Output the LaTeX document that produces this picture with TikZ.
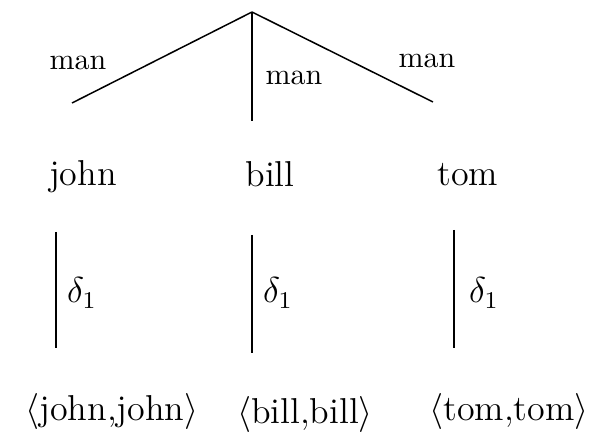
\documentclass[tikz,border=0pt]{standalone}
\begin{document}
\begin{tikzpicture}[x=0.3333pt,y=-0.3333pt,
  edge/.style={line width=0.5pt},
  lab/.style={font=\fontsize{10}{12}\selectfont, anchor=base, inner sep=0pt},
  word/.style={font=\fontsize{12}{14}\selectfont, anchor=base, inner sep=0pt},
  dlab/.style={font=\fontsize{12}{14}\selectfont, anchor=center, inner sep=0pt}]
\useasboundingbox (0,0) rectangle (598,439);
% tree
\coordinate (top) at (252,12);
\coordinate (eL) at (72,103);
\coordinate (eM) at (252,121);
\coordinate (eR) at (433,102);
\draw[edge] (top) -- (eL);
\draw[edge] (top) -- (eM);
\draw[edge] (top) -- (eR);
\node[lab] (mL) at (78,70) {man};
\node[lab] (mM) at (294,85) {man};
\node[lab] (mR) at (427,68) {man};
% words
\node[word] (john) at (83,186) {john};
\node[word] (bill) at (270,187) {bill};
\node[word] (tom) at (468,186) {tom};
% delta lines
\coordinate (j1) at (56,232); \coordinate (j2) at (56,348);
\coordinate (b1) at (252,235); \coordinate (b2) at (252,353);
\coordinate (t1) at (454,230); \coordinate (t2) at (454,348);
\draw[edge] (j1) -- (j2);
\draw[edge] (b1) -- (b2);
\draw[edge] (t1) -- (t2);
\node[dlab] (dj) at (82,293) {$\delta_1$};
\node[dlab] (db) at (278,293) {$\delta_1$};
\node[dlab] (dt) at (484,293) {$\delta_1$};
% pairs
\node[word] (jj) at (112,421) {$\langle$john,john$\rangle$};
\node[word] (bb) at (305,424) {$\langle$bill,bill$\rangle$};
\node[word] (tt) at (509,421) {$\langle$tom,tom$\rangle$};
\end{tikzpicture}
\end{document}
